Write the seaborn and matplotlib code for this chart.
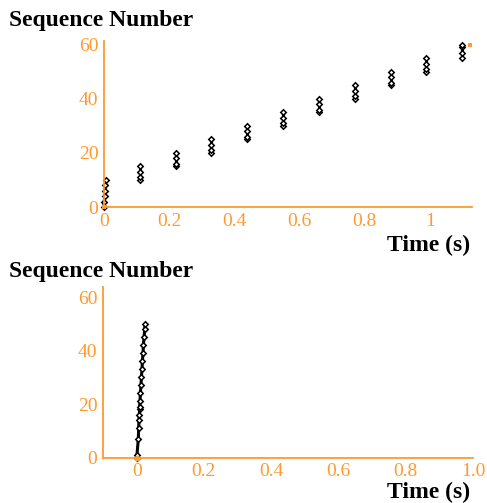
import numpy as np
import pandas as pd
import matplotlib
matplotlib.use("Agg")
import matplotlib.pyplot as plt
import seaborn as sns
from matplotlib.ticker import MultipleLocator, FixedLocator

ORANGE = "#ff9a2e"

# top panel: bursts of packets, one group per round trip
top_group = [0, 0, 0, 0, 0, 0,
             1, 1, 1, 1, 2, 2, 2, 2, 3, 3, 3, 3, 4, 4, 4, 4, 5, 5, 5, 5,
             6, 6, 6, 6, 7, 7, 7, 7, 8, 8, 8, 8, 9, 9, 9, 9, 10, 10, 10, 10]
top_time = [0.0, 0.001, 0.002, 0.003, 0.004, 0.005,
            0.11, 0.11, 0.11, 0.11, 0.22, 0.22, 0.22, 0.22,
            0.33, 0.33, 0.33, 0.33, 0.44, 0.44, 0.44, 0.44,
            0.55, 0.55, 0.55, 0.55, 0.66, 0.66, 0.66, 0.66,
            0.77, 0.77, 0.77, 0.77, 0.88, 0.88, 0.88, 0.88,
            0.99, 0.99, 0.99, 0.99, 1.10, 1.10, 1.10, 1.10]
top_seq = [0, 2, 4, 6, 8, 10,
           10, 11, 13, 15, 15, 16, 18, 20, 20, 21, 23, 25, 25, 26, 28, 30,
           30, 31, 33, 35, 35, 36, 38, 40, 40, 41, 43, 45, 45, 46, 48, 50,
           50, 51, 53, 55, 55, 57, 59, 60]
top_ack_time = [0.0, 1.125]
top_ack_seq = [0, 60]

# bottom panel: everything sent almost at once
bot_time = [0.0, 0.001, 0.005, 0.006, 0.007, 0.008, 0.009, 0.009, 0.010, 0.011,
            0.013, 0.014, 0.016, 0.017, 0.019, 0.020, 0.022, 0.024, 0.025]
bot_seq = [0, 1, 7, 11, 14, 16, 18, 19, 21, 24, 27, 30, 33, 36, 39, 42, 45, 48, 50]
bot_ack_time = [0.0]
bot_ack_seq = [0]

sns.set_style("white")
plt.rcParams["font.family"] = ["Liberation Serif", "DejaVu Serif"]

W, H = 487, 503
fig = plt.figure(figsize=(W / 100, H / 100), dpi=100)


def px_axes(left, top, right, bottom):
    return fig.add_axes([left / W, 1 - bottom / H, (right - left) / W, (bottom - top) / H])


def style_axes(ax, xlim, ylim, xlabels):
    ax.set_xlim(*xlim)
    ax.set_ylim(*ylim)
    for s in ["top", "right"]:
        ax.spines[s].set_visible(False)
    for s in ["left", "bottom"]:
        ax.spines[s].set_color(ORANGE)
        ax.spines[s].set_linewidth(1.3)
    ax.xaxis.set_major_locator(FixedLocator(list(xlabels.keys())))
    ax.set_xticklabels(list(xlabels.values()))
    ax.xaxis.set_minor_locator(MultipleLocator(0.1))
    ax.yaxis.set_major_locator(MultipleLocator(20))
    ax.yaxis.set_minor_locator(MultipleLocator(10))
    ax.tick_params(which="both", direction="out", colors=ORANGE, labelcolor=ORANGE,
                   labelsize=14, width=1)
    ax.tick_params(which="major", length=3, pad=1)
    ax.tick_params(which="minor", length=2)
    ax.set_xlabel("")
    ax.set_ylabel("")
    ax.grid(False)


line_kw = dict(color="black", marker="D", markersize=2.8, markerfacecolor="white",
               markeredgecolor="black", markeredgewidth=1.1, linewidth=2.2)

# top
ax1 = px_axes(104, 41.5, 472, 207)
df_top = pd.DataFrame({"t": top_time, "seq": top_seq, "g": top_group})
sns.lineplot(data=df_top, x="t", y="seq", units="g", estimator=None, sort=False,
             ax=ax1, **line_kw)
sns.scatterplot(x=top_ack_time, y=top_ack_seq, ax=ax1, color=ORANGE, marker="s",
                s=9, linewidth=0, zorder=5)
style_axes(ax1, (0, 1.13), (0, 61.2),
           {0: "0", 0.2: "0.2", 0.4: "0.4", 0.6: "0.6", 0.8: "0.8", 1.0: "1"})

# bottom
ax2 = px_axes(103, 287, 473, 457.5)
df_bot = pd.DataFrame({"t": bot_time, "seq": bot_seq})
sns.lineplot(data=df_bot, x="t", y="seq", estimator=None, sort=False, ax=ax2, **line_kw)
sns.scatterplot(x=bot_ack_time, y=bot_ack_seq, ax=ax2, color=ORANGE, marker="o",
                s=18, linewidth=0, zorder=5)
style_axes(ax2, (-0.1, 1.0), (0, 63.8),
           {0: "0", 0.2: "0.2", 0.4: "0.4", 0.6: "0.6", 0.8: "0.8", 1.0: "1.0"})

for ax in (ax1, ax2):
    for ln in ax.lines:
        ln.set_clip_on(False)
    for c in ax.collections:
        c.set_clip_on(False)

# axis titles placed like the original (y title above, x title below right)
title_kw = dict(fontsize=17, fontweight="bold", color="black")
fig.text(9 / W, 1 - 26 / H, "Sequence Number", ha="left", va="baseline", **title_kw)
fig.text(470 / W, 1 - 251 / H, "Time (s)", ha="right", va="baseline", **title_kw)
fig.text(9 / W, 1 - 277 / H, "Sequence Number", ha="left", va="baseline", **title_kw)
fig.text(470 / W, 1 - 498 / H, "Time (s)", ha="right", va="baseline", **title_kw)

fig.savefig("out.png", dpi=100, facecolor="white")
